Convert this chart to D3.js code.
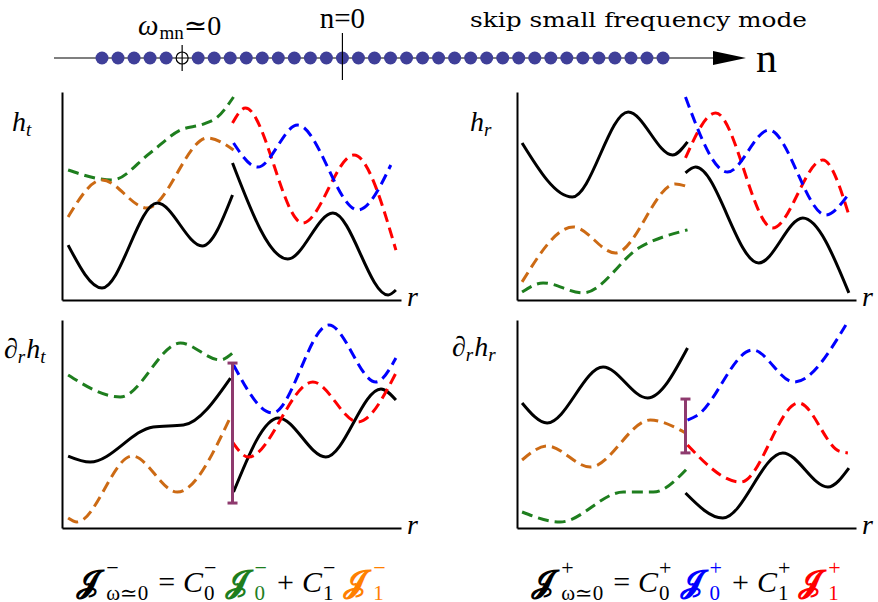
<!DOCTYPE html>
<meta charset="utf-8">
<style>
body { margin: 0; background: #fff; }
svg text { font-family: "Liberation Serif", "DejaVu Serif", serif; }
.curve { fill: none; stroke-width: 3; stroke-linejoin: round; }
.dash { stroke-dasharray: 11,6; }
.axis path { stroke: #000; stroke-width: 2; }
</style>
<body>
<script src="https://cdn.jsdelivr.net/npm/d3@7/dist/d3.min.js"></script>
<script>

// mode number line
var modes = d3.range(-15, 21);
var skippedMode = -10;

// curves, r and value in arbitrary units (0..10)
// h_t
var htBlackIn   = [[0.18,2.64],[1.18,0.58],[2.81,4.66],[4.14,2.60],[5.03,5.05]];
var htBlackOut  = [[5.03,6.59],[6.66,1.97],[7.99,4.18],[9.62,0.24],[9.85,0.48]];
var htGreen     = [[0.18,6.25],[1.48,5.77],[2.60,7.07],[3.49,8.17],[4.17,8.46],[4.59,8.80],[5.06,9.76]];
var htOrange    = [[0.18,3.99],[1.18,5.77],[2.51,4.42],[4.29,7.79],[5.06,7.21]];
var htRed       = [[5.03,8.51],[5.41,9.23],[7.10,3.70],[8.61,6.97],[9.85,2.40]];
var htBlue      = [[5.06,7.55],[5.77,6.39],[6.95,8.41],[8.73,4.33],[9.70,6.49]];
// h_r
var hrBlackIn   = [[0.15,7.55],[1.63,4.95],[3.28,9.04],[4.59,6.97],[5.03,7.60]];
var hrBlackOut  = [[4.97,6.11],[5.27,6.39],[7.13,1.78],[8.43,3.94],[9.79,0.34]];
var hrOrange    = [[0.15,0.87],[1.66,3.51],[2.90,2.26],[4.67,5.58],[4.97,5.48]];
var hrGreen     = [[0.15,0.38],[0.77,0.82],[1.95,0.34],[3.64,2.55],[5.03,3.37]];
var hrRed       = [[4.97,6.83],[5.86,8.99],[7.54,3.46],[9.02,6.73],[9.79,4.09]];
var hrBlue      = [[4.97,9.76],[6.21,6.15],[7.43,8.17],[9.11,4.09],[9.76,5.05]];
// d_r h_t
var dhtBlackIn  = [[0.18,3.46],[0.83,3.17],[2.69,4.86],[3.58,4.95],[4.97,7.21]];
var dhtBlackOut = [[5.06,1.73],[6.39,5.29],[7.78,3.41],[9.41,6.68],[9.85,6.15]];
var dhtGreen    = [[0.18,7.36],[1.72,6.30],[3.49,8.89],[4.67,8.08],[5.03,8.41]];
var dhtOrange   = [[0.18,0.48],[0.44,0.29],[2.07,3.46],[3.40,1.73],[4.97,5.34]];
var dhtBlue     = [[5.06,7.84],[6.21,5.53],[7.87,9.76],[9.26,7.02],[9.85,8.17]];
var dhtRed      = [[5.03,4.13],[5.50,3.41],[7.40,7.02],[8.73,5.10],[9.85,7.45]];
var dhtJump     = [5.03, 1.20, 7.93];
// d_r h_r
var dhrBlackIn  = [[0.15,6.01],[0.89,5.05],[2.54,7.74],[3.85,6.25],[5.03,8.65]];
var dhrBlackOut = [[4.97,1.68],[6.07,0.48],[7.84,3.61],[9.17,1.97],[9.79,2.88]];
var dhrBlue     = [[5.03,5.19],[5.30,5.40],[6.95,8.56],[8.17,7.02],[9.70,9.76]];
var dhrRed      = [[5.03,3.99],[6.60,2.21],[8.31,6.01],[9.50,3.70],[9.76,3.61]];
var dhrOrange   = [[0.15,3.27],[0.89,3.94],[2.16,2.93],[3.93,5.19],[4.97,4.57]];
var dhrGreen    = [[0.15,0.77],[1.27,0.29],[3.14,1.73],[4.02,1.73],[5.03,2.88]];
var dhrJump     = [4.97, 3.61, 6.20];

var col = { black: "#000", green: "#1e7e1e", orange: "#cc6a14", blue: "#0000ff", red: "#ff0000", jump: "#8e3a6e" };

var width = 878, height = 602;
var svg = d3.select("body").append("svg")
    .attr("width", width)
    .attr("height", height);

// ---- number line ----
var nx = d3.scaleLinear().domain([-15, 20]).range([102, 663]);
var lineY = 58;

svg.append("line")
    .attr("x1", 54).attr("x2", 716)
    .attr("y1", lineY).attr("y2", lineY)
    .attr("stroke", "#000").attr("stroke-width", 1.2);
svg.append("path")
    .attr("d", "M713," + (lineY - 7) + "L746," + lineY + "L713," + (lineY + 7) + "Z")
    .attr("fill", "#000");

svg.selectAll("circle.mode")
    .data(modes.filter(function(n) { return n != skippedMode; }))
  .enter().append("circle")
    .attr("class", "mode")
    .attr("cx", function(d) { return nx(d); })
    .attr("cy", lineY)
    .attr("r", 6.5)
    .attr("fill", "#3f3f99");

svg.append("circle")
    .attr("cx", nx(skippedMode)).attr("cy", lineY).attr("r", 6)
    .attr("fill", "none").attr("stroke", "#000").attr("stroke-width", 1.2);
svg.append("line")
    .attr("x1", nx(skippedMode)).attr("x2", nx(skippedMode))
    .attr("y1", lineY - 13).attr("y2", lineY + 13)
    .attr("stroke", "#000").attr("stroke-width", 1.2);
svg.append("line")
    .attr("x1", nx(0)).attr("x2", nx(0))
    .attr("y1", lineY - 25).attr("y2", lineY + 22)
    .attr("stroke", "#000").attr("stroke-width", 1.2);

svg.append("text").attr("x", nx(0)).attr("y", 28)
    .attr("text-anchor", "middle").style("font-size", "29px").text("n=0");
svg.append("text").attr("x", 470).attr("y", 27)
    .style("font-family", "DejaVu Serif").style("font-size", "21px")
    .attr("textLength", 337).attr("lengthAdjust", "spacingAndGlyphs")
    .text("skip small frequency mode");
svg.append("text").attr("x", 756).attr("y", 72)
    .style("font-size", "42px").text("n");

// small helper for math-like labels: pieces placed left to right,
// a piece with "stack" puts its parts on top of each other
function drawMath(x, y, pieces, anchor) {
  var g = svg.append("g");
  var cx = 0;
  pieces.forEach(function(p) {
    var w = 0;
    (p.stack || [p]).forEach(function(q) {
      var t = g.append("text")
        .attr("x", cx + (q.dx || 0))
        .attr("y", q.dy || 0)
        .attr("fill", q.color || "#000")
        .style("font-size", q.size + "px")
        .style("font-style", q.italic ? "italic" : "normal")
        .style("font-weight", q.bold ? "bold" : "normal")
        .text(q.t);
      w = Math.max(w, t.node().getComputedTextLength() + (q.dx || 0));
    });
    cx += w + (p.gap || 0);
  });
  var off = anchor == "middle" ? -cx / 2 : 0;
  g.attr("transform", "translate(" + (x + off) + "," + y + ")");
}

drawMath(138, 35, [
  {t: "ω", size: 29, italic: true, gap: 1},
  {t: "mn", size: 19, dy: 4},
  {t: "≃0", size: 28}
]);

// ---- panels ----
var panels = [
  {x0: 62, y0: 300, label: [{t: "h", size: 28, italic: true}, {t: "t", size: 19, italic: true, dy: 5}], lx: 12, ly: 131,
   curves: [[htGreen, "green"], [htOrange, "orange"], [htBlackIn, "black"], [htBlackOut, "black"], [htRed, "red"], [htBlue, "blue"]]},
  {x0: 517, y0: 300, label: [{t: "h", size: 28, italic: true}, {t: "r", size: 19, italic: true, dy: 5}], lx: 470, ly: 131,
   curves: [[hrGreen, "green"], [hrOrange, "orange"], [hrBlackIn, "black"], [hrBlackOut, "black"], [hrRed, "red"], [hrBlue, "blue"]]},
  {x0: 62, y0: 528, label: [{t: "∂", size: 28, italic: true}, {t: "r", size: 19, italic: true, dy: 5, gap: 1}, {t: "h", size: 28, italic: true}, {t: "t", size: 19, italic: true, dy: 5}], lx: 4, ly: 358,
   curves: [[dhtGreen, "green"], [dhtOrange, "orange"], [dhtBlackIn, "black"], [dhtBlackOut, "black"], [dhtRed, "red"], [dhtBlue, "blue"]], jump: dhtJump},
  {x0: 517, y0: 528, label: [{t: "∂", size: 28, italic: true}, {t: "r", size: 19, italic: true, dy: 5, gap: 1}, {t: "h", size: 28, italic: true}, {t: "r", size: 19, italic: true, dy: 5}], lx: 452, ly: 356,
   curves: [[dhrGreen, "green"], [dhrOrange, "orange"], [dhrBlackIn, "black"], [dhrBlackOut, "black"], [dhrRed, "red"], [dhrBlue, "blue"]], jump: dhrJump}
];

panels.forEach(function(p) {
  var x = d3.scaleLinear().domain([0, 10]).range([p.x0, p.x0 + 339]);
  var y = d3.scaleLinear().domain([0, 10]).range([p.y0, p.y0 - 208]);
  var line = d3.line()
      .x(function(d) { return x(d[0]); })
      .y(function(d) { return y(d[1]); })
      .curve(d3.curveMonotoneX);

  svg.append("g").attr("class", "axis")
      .attr("transform", "translate(0," + p.y0 + ")")
      .call(d3.axisBottom(x).ticks(0).tickSizeOuter(0));
  svg.append("g").attr("class", "axis")
      .attr("transform", "translate(" + p.x0 + ",0)")
      .call(d3.axisLeft(y).ticks(0).tickSizeOuter(0));

  p.curves.forEach(function(c) {
    svg.append("path")
        .datum(c[0])
        .attr("class", "curve" + (c[1] == "black" ? "" : " dash"))
        .attr("stroke", col[c[1]])
        .attr("d", line);
  });

  if (p.jump) {
    var jx = x(p.jump[0]);
    svg.append("line")
        .attr("x1", jx).attr("x2", jx)
        .attr("y1", y(p.jump[1])).attr("y2", y(p.jump[2]))
        .attr("stroke", col.jump).attr("stroke-width", 3);
    [p.jump[1], p.jump[2]].forEach(function(v) {
      svg.append("line")
          .attr("x1", jx - 5).attr("x2", jx + 5)
          .attr("y1", y(v)).attr("y2", y(v))
          .attr("stroke", col.jump).attr("stroke-width", 3);
    });
  }

  svg.append("text")
      .attr("x", x(10) + 6).attr("y", p.y0 + 6)
      .style("font-size", "28px").style("font-style", "italic")
      .text("r");
  drawMath(p.lx, p.ly, p.label);
});

// ---- formulas ----
function sup(s, sub, color, gap) {
  return {stack: [{t: s, size: 22, dy: -17, color: color}, {t: sub, size: 21, dy: 8, color: color}], gap: gap};
}
var J = "𝓙";
drawMath(231, 592, [
  {t: J, size: 32, bold: true, gap: 8},
  sup("−", "ω≃0", null, 10),
  {t: "=", size: 30, gap: 8},
  {t: "C", size: 30, italic: true, gap: 1},
  sup("−", "0", null, 8),
  {t: J, size: 32, bold: true, color: col.green, gap: 8},
  sup("−", "0", col.green, 10),
  {t: "+", size: 30, gap: 8},
  {t: "C", size: 30, italic: true, gap: 1},
  sup("−", "1", null, 8),
  {t: J, size: 32, bold: true, color: "#ff8000", gap: 8},
  sup("−", "1", "#ff8000", 0)
], "middle");

drawMath(686, 592, [
  {t: J, size: 32, bold: true, gap: 8},
  sup("+", "ω≃0", null, 10),
  {t: "=", size: 30, gap: 8},
  {t: "C", size: 30, italic: true, gap: 1},
  sup("+", "0", null, 8),
  {t: J, size: 32, bold: true, color: col.blue, gap: 8},
  sup("+", "0", col.blue, 10),
  {t: "+", size: 30, gap: 8},
  {t: "C", size: 30, italic: true, gap: 1},
  sup("+", "1", null, 8),
  {t: J, size: 32, bold: true, color: col.red, gap: 8},
  sup("+", "1", col.red, 0)
], "middle");

</script>
